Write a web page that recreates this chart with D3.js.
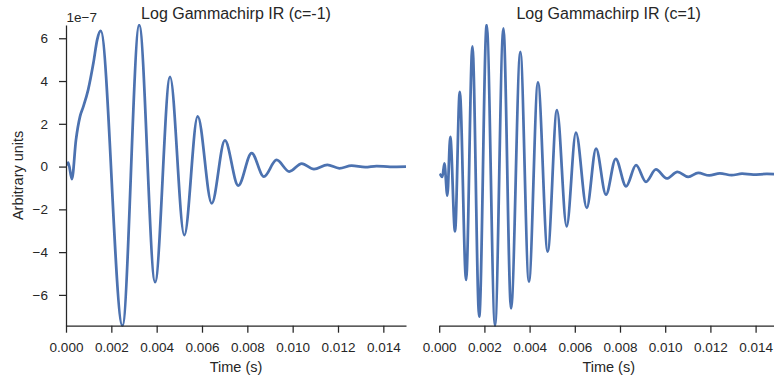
<!DOCTYPE html>
<meta charset="utf-8" />
<head>
  <style>
    body { margin: 0; background: #fff; }
    text { font-family: Arial, "Liberation Sans", sans-serif; fill: #262626; }
    .domain, .tick line { stroke: #262626; stroke-width: 1.25; }
    .ir { fill: none; stroke: #4c72b0; stroke-width: 2.75; stroke-linejoin: round; }
  </style>
  <script src="https://cdn.jsdelivr.net/npm/d3@7"></script>
</head>
<body>
<script>
  var timeLeft = [0, 0.0001, 0.00026, 0.00044, 0.00062, 0.00076, 0.00098, 0.00121, 0.00138, 0.00153,
    0.00249, 0.00323, 0.00393, 0.00459, 0.00522, 0.00581, 0.00643, 0.00701, 0.0076, 0.00819,
    0.00873, 0.00929, 0.00985, 0.0104, 0.01094, 0.01153, 0.01206, 0.0126, 0.0132, 0.0137, 0.0143, 0.015];
  var ampLeft = [0.05, 0.19, -0.59, 1.25, 2.35, 2.79, 3.6, 4.85, 5.95, 6.34,
    -7.44, 6.62, -5.4, 4.2, -3.21, 2.35, -1.72, 1.22, -0.89, 0.63,
    -0.47, 0.31, -0.23, 0.14, -0.12, 0.08, -0.08, 0.04, -0.03, 0.02, -0.01, 0];

  // c=1 panel, same units, own y limits
  var timeRight = [0.00002, 0.00014, 0.00023, 0.00036, 0.00049, 0.0007, 0.00091, 0.00119, 0.00147, 0.00177,
    0.0021, 0.00247, 0.00284, 0.00318, 0.00359, 0.00397, 0.00437, 0.0048, 0.00521, 0.00564,
    0.00605, 0.00653, 0.00694, 0.00738, 0.00781, 0.00827, 0.00871, 0.00915, 0.00959, 0.01007,
    0.01054, 0.01102, 0.01146, 0.01195, 0.01242, 0.01294, 0.0134, 0.0139, 0.0145, 0.015];
  var ampRight = [0, -0.16, 0.47, -1.03, 1.72, -2.71, 3.82, -4.98, 5.95, -6.7,
    6.95, -7.12, 6.79, -6.31, 5.69, -5.06, 4.27, -3.65, 2.97, -2.47,
    1.91, -1.61, 1.17, -0.99, 0.69, -0.6, 0.39, -0.39, 0.19, -0.23,
    0.08, -0.16, 0.03, -0.09, 0.01, -0.08, -0.01, -0.05, -0.02, -0.03];

  var xTicks = [0, 0.002, 0.004, 0.006, 0.008, 0.01, 0.012, 0.014];
  var yTicks = [-6, -4, -2, 0, 2, 4, 6];
  var titles = ["Log Gammachirp IR (c=-1)", "Log Gammachirp IR (c=1)"];

  var width = 774, height = 382,
    plotTop = 25, plotBottom = 325.7;

  var svg = d3.select("body").append("svg")
    .attr("width", width)
    .attr("height", height);

  var panels = [
    { x0: 66, x1: 406, t: timeLeft, a: ampLeft, title: titles[0], yAxis: true },
    { x0: 439.2, x1: 778.2, t: timeRight, a: ampRight, title: titles[1], yAxis: false }
  ];

  panels.forEach(function(p, i) {
    var x = d3.scaleLinear().domain([0, 0.015]).range([p.x0, p.x1]);
    var y = d3.scaleLinear().domain(d3.extent(p.a)).range([plotBottom, plotTop]);

    svg.append("clipPath").attr("id", "clip" + i)
      .append("rect")
      .attr("x", p.x0).attr("y", plotTop - 1)
      .attr("width", p.x1 - p.x0).attr("height", plotBottom - plotTop + 2);

    var line = d3.line()
      .x(function(d, j) { return x(p.t[j]); })
      .y(function(d) { return y(d); })
      .curve(d3.curveMonotoneX);

    svg.append("path")
      .attr("class", "ir")
      .attr("clip-path", "url(#clip" + i + ")")
      .attr("d", line(p.a));

    var gx = svg.append("g")
      .attr("transform", "translate(0," + plotBottom + ")")
      .call(d3.axisBottom(x).tickValues(xTicks).tickSize(7).tickSizeOuter(0)
        .tickPadding(10).tickFormat(d3.format(".3f")));
    gx.selectAll("text").attr("font-size", 13.5).attr("font-family", null);

    if (p.yAxis) {
      var gy = svg.append("g")
        .attr("transform", "translate(" + p.x0 + ",0)")
        .call(d3.axisLeft(y).tickValues(yTicks).tickSize(7).tickSizeOuter(0)
          .tickPadding(11).tickFormat(d3.format("d")));
      gy.selectAll("text").attr("font-size", 13.5).attr("font-family", null);

      svg.append("text")
        .attr("x", p.x0 + 0.5).attr("y", 21.7)
        .attr("font-size", 13.5)
        .text("1e\u22127");

      svg.append("text")
        .attr("transform", "translate(23," + (plotTop + plotBottom) / 2 + ") rotate(-90)")
        .attr("text-anchor", "middle")
        .attr("font-size", 14.5)
        .text("Arbitrary units");
    }

    svg.append("text")
      .attr("x", (p.x0 + p.x1) / 2).attr("y", 19)
      .attr("text-anchor", "middle")
      .attr("font-size", 16)
      .text(p.title);

    svg.append("text")
      .attr("x", (p.x0 + p.x1) / 2).attr("y", 372)
      .attr("text-anchor", "middle")
      .attr("font-size", 14.5)
      .text("Time (s)");
  });
</script>
</body>
